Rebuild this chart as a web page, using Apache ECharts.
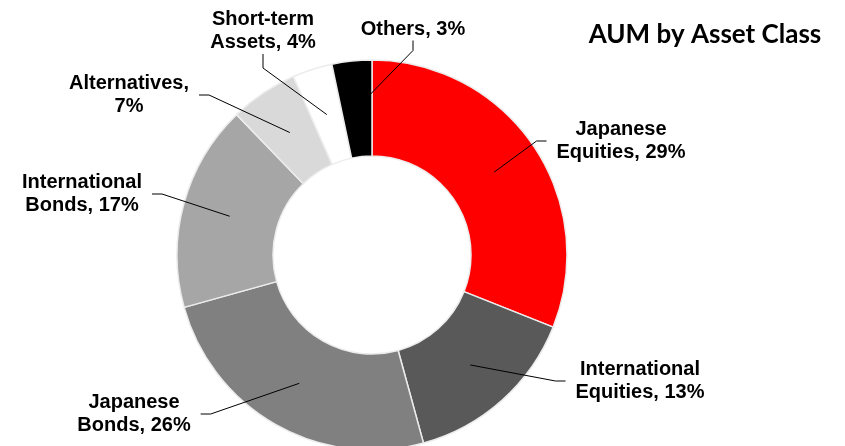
<!DOCTYPE html>
<html>
<head>
<meta charset="utf-8">
<script src="https://cdn.jsdelivr.net/npm/echarts@6/dist/echarts.min.js"></script>
<style>
  html, body { margin: 0; padding: 0; background: #fff; }
  #chart { width: 845px; height: 446px; }
</style>
</head>
<body>
<div id="chart"></div>
<script>
  // slice sizes (the printed labels are rounded differently)
  var categories = ["Japanese Equities", "International Equities", "Japanese Bonds",
    "International Bonds", "Alternatives", "Short-term Assets", "Others"];
  var shares = [31.0, 14.7, 24.9, 17.1, 5.6, 3.3, 3.3];
  var labelTexts = ["Japanese\nEquities, 29%", "International\nEquities, 13%", "Japanese\nBonds, 26%",
    "International\nBonds, 17%", "Alternatives,\n7%", "Short-term\nAssets, 4%", "Others, 3%"];
  var colors = ["#ff0000", "#595959", "#808080", "#a6a6a6", "#d9d9d9", "#ffffff", "#000000"];

  // where each label block is centred
  var labelSpots = [[621, 141], [640, 381], [134, 414], [82, 194], [129, 95], [263, 31], [413, 29]];

  var chart = echarts.init(document.getElementById("chart"));

  var ringData = categories.map(function (name, i) {
    return { name: name, value: shares[i], itemStyle: { color: colors[i] } };
  });

  // thin invisible ring at mid-width, only used to anchor the leader lines
  var guideData = categories.map(function (name, i) {
    var item = { name: name, value: shares[i] };
    if (i === 5) {
      // longer stub so the line leaves from under the text, not its side
      item.labelLine = { length2: 14 };
    }
    if (i === 6) {
      // wide side padding so the line leaves from under "Others"
      item.label = { padding: [0, 30] };
    }
    return item;
  });

  chart.setOption({
    animation: false,
    title: {
      text: "AUM by Asset Class",
      left: 705,
      top: 22,
      padding: 0,
      textAlign: "center",
      textStyle: {
        fontFamily: "Lato",
        fontWeight: "bold",
        fontSize: 26,
        color: "#000"
      }
    },
    series: [
      {
        type: "pie",
        z: 2,
        center: [372, 255],
        radius: [99, 195],
        silent: true,
        label: { show: false },
        labelLine: { show: false },
        itemStyle: {
          borderColor: "#ececec",
          borderWidth: 1.5
        },
        data: ringData
      },
      {
        type: "pie",
        z: 5,
        center: [372, 255],
        radius: [146.5, 147.5],
        silent: true,
        avoidLabelOverlap: false,
        itemStyle: { color: "rgba(0,0,0,0)" },
        label: {
          show: true,
          position: "outside",
          formatter: function (p) {
            return labelTexts[p.dataIndex];
          },
          fontFamily: "Liberation Sans",
          fontWeight: "bold",
          fontSize: 20,
          lineHeight: 23,
          color: "#000",
          padding: [0, 10]
        },
        labelLine: {
          show: true,
          length: 15,
          length2: 10,
          lineStyle: { color: "#000", width: 1 }
        },
        labelLayout: function (params) {
          var spot = labelSpots[params.dataIndex];
          return {
            x: spot[0],
            y: spot[1],
            align: "center",
            verticalAlign: "middle"
          };
        },
        data: guideData
      }
    ]
  });
</script>
</body>
</html>
